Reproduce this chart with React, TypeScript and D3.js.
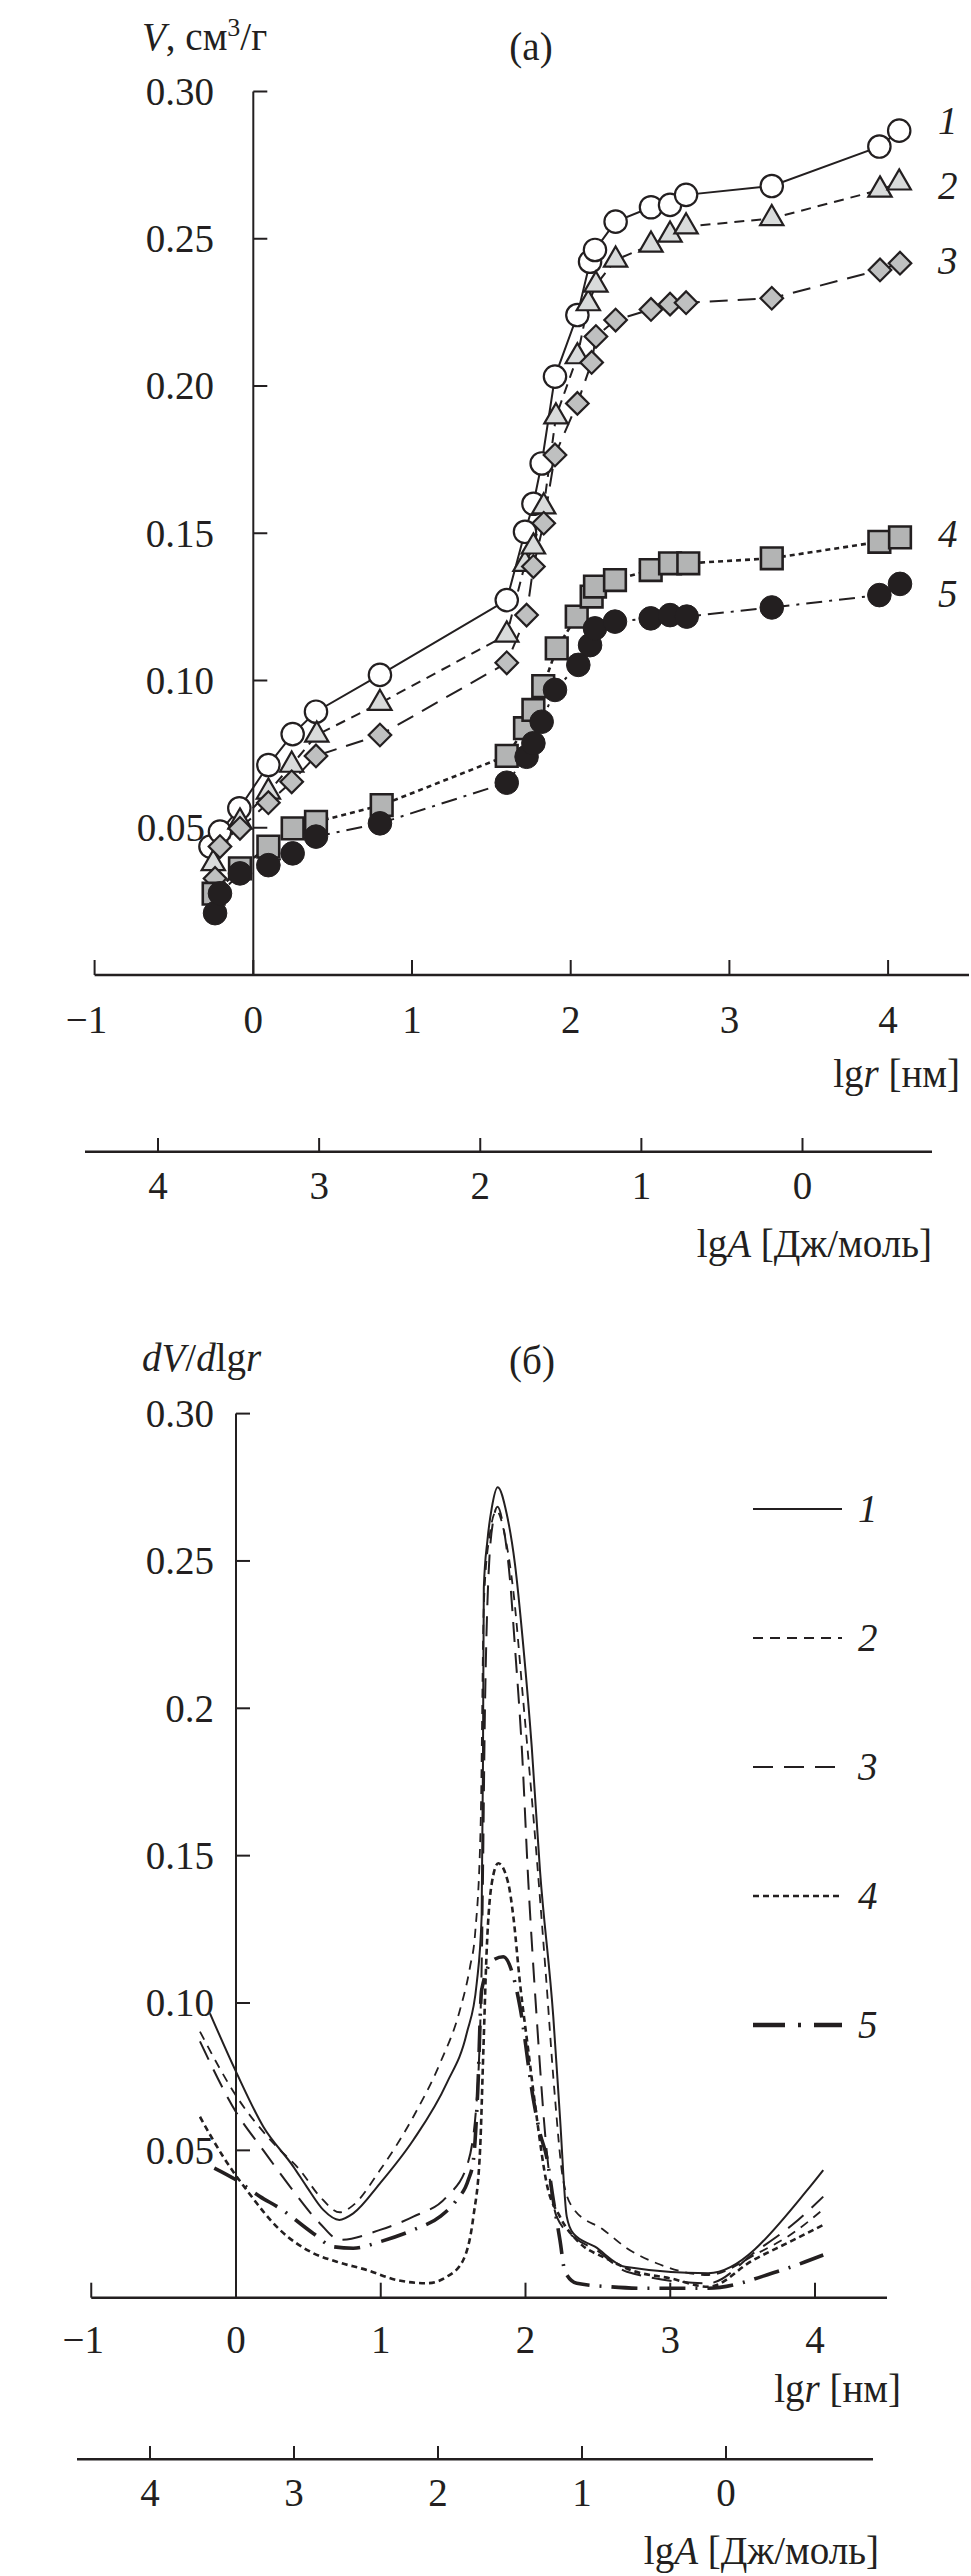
import React from 'react';
import * as d3 from 'd3';

const INK = '#231f20';
const FONT = '"Liberation Serif", "Times New Roman", serif';

// ---------- Panel (a) data: lg r [nm] vs V, cm3/g ----------
const seriesA1: [number, number][] = [
  [-0.27, 0.0436], [-0.21, 0.0487], [-0.088, 0.0566], [0.095, 0.0713], [0.248, 0.0818],
  [0.395, 0.0894], [0.798, 0.1019], [1.597, 0.1273], [1.712, 0.1505], [1.765, 0.16],
  [1.817, 0.1737], [1.901, 0.2032], [2.042, 0.2241], [2.122, 0.2422], [2.153, 0.2462],
  [2.283, 0.2558], [2.506, 0.2607], [2.626, 0.2615], [2.727, 0.2649], [3.267, 0.2679],
  [3.945, 0.2813], [4.07, 0.2867],
];
const seriesA2: [number, number][] = [
  [-0.252, 0.0379], [-0.084, 0.052], [0.095, 0.0622], [0.242, 0.0713], [0.4, 0.0815],
  [0.798, 0.0923], [1.597, 0.1155], [1.712, 0.1395], [1.765, 0.1454], [1.83, 0.159],
  [1.907, 0.1896], [2.042, 0.21], [2.111, 0.228], [2.159, 0.2343], [2.283, 0.2428],
  [2.506, 0.2479], [2.626, 0.2513], [2.727, 0.2541], [3.267, 0.2569], [3.949, 0.2666],
  [4.07, 0.269],
];
const seriesA3: [number, number][] = [
  [-0.241, 0.0328], [-0.21, 0.0436], [-0.084, 0.0498], [0.095, 0.0585], [0.242, 0.0656],
  [0.395, 0.0744], [0.798, 0.0815], [1.597, 0.106], [1.722, 0.1222], [1.765, 0.1387],
  [1.83, 0.1534], [1.901, 0.1766], [2.042, 0.1941], [2.132, 0.208], [2.159, 0.2168],
  [2.283, 0.2224], [2.506, 0.226], [2.626, 0.2278], [2.727, 0.2283], [3.267, 0.2298],
  [3.949, 0.2394], [4.075, 0.2417],
];
const seriesA4: [number, number][] = [
  [-0.25, 0.0276], [-0.084, 0.0362], [0.095, 0.0436], [0.248, 0.0498], [0.395, 0.052],
  [0.809, 0.0577], [1.597, 0.0744], [1.712, 0.0838], [1.765, 0.09], [1.827, 0.0981],
  [1.912, 0.1109], [2.038, 0.1217], [2.132, 0.1285], [2.153, 0.1319], [2.279, 0.1341],
  [2.504, 0.1375], [2.626, 0.1398], [2.741, 0.1398], [3.267, 0.1415], [3.945, 0.1471],
  [4.075, 0.1486],
];
const seriesA5: [number, number][] = [
  [-0.241, 0.021], [-0.21, 0.0277], [-0.084, 0.0345], [0.095, 0.0373], [0.248, 0.0413],
  [0.395, 0.047], [0.798, 0.0515], [1.597, 0.0653], [1.722, 0.0741], [1.765, 0.0787],
  [1.817, 0.086], [1.901, 0.0968], [2.048, 0.1053], [2.122, 0.112], [2.153, 0.1177],
  [2.279, 0.12], [2.504, 0.1211], [2.626, 0.1222], [2.731, 0.1217], [3.267, 0.1248],
  [3.945, 0.129], [4.075, 0.1328],
];

// ---------- Panel (b) data: lg r vs dV/dlg r ----------
const curveB1: [number, number][] = [
  [-0.18, 0.0965], [0, 0.0767], [0.189, 0.058], [0.396, 0.0445], [0.488, 0.0377],
  [0.603, 0.0298], [0.714, 0.0264], [0.81, 0.0286], [0.995, 0.0388], [1.225, 0.0535],
  [1.456, 0.0728], [1.594, 0.0897], [1.663, 0.1067], [1.697, 0.1293], [1.706, 0.18],
  [1.712, 0.241], [1.737, 0.257], [1.767, 0.268], [1.808, 0.275], [1.87, 0.266],
  [1.927, 0.249], [1.985, 0.221], [2.043, 0.187], [2.1, 0.145], [2.192, 0.0953],
  [2.238, 0.0614], [2.285, 0.0275], [2.33, 0.0218], [2.48, 0.0173], [2.687, 0.0105],
  [3.263, 0.0083], [3.966, 0.0377], [4.057, 0.0433],
];
const curveB2: [number, number][] = [
  [-0.249, 0.0903], [0.005, 0.0682], [0.258, 0.0524], [0.442, 0.0433], [0.58, 0.0343],
  [0.718, 0.029], [0.81, 0.0314], [0.995, 0.0433], [1.225, 0.0614], [1.409, 0.0795],
  [1.547, 0.0976], [1.617, 0.1123], [1.652, 0.1236], [1.69, 0.16], [1.712, 0.235],
  [1.75, 0.258], [1.8, 0.267], [1.86, 0.258], [1.92, 0.238], [1.98, 0.205],
  [2.06, 0.16], [2.14, 0.11], [2.2, 0.07], [2.26, 0.04], [2.33, 0.0303],
  [2.54, 0.023], [2.7, 0.0168], [2.906, 0.0117], [3.263, 0.0077], [3.6, 0.015],
  [3.85, 0.022], [4.057, 0.03],
];
const curveB3: [number, number][] = [
  [-0.249, 0.087], [0.005, 0.0626], [0.189, 0.05], [0.373, 0.0377], [0.58, 0.0252],
  [0.718, 0.0196], [0.995, 0.023], [1.225, 0.0275], [1.456, 0.0343], [1.594, 0.0445],
  [1.66, 0.065], [1.7, 0.12], [1.72, 0.2], [1.743, 0.2435], [1.778, 0.264],
  [1.807, 0.2684], [1.847, 0.2616], [1.893, 0.2435], [1.927, 0.2209], [1.974, 0.187],
  [2.02, 0.1406], [2.077, 0.0953], [2.146, 0.05], [2.215, 0.0275], [2.35, 0.02],
  [2.49, 0.0162], [2.7, 0.0088], [3.263, 0.0049], [3.6, 0.016], [3.85, 0.025],
  [4.057, 0.0343],
];
const curveB4: [number, number][] = [
  [-0.249, 0.0614], [-0.088, 0.0478], [0.074, 0.0365], [0.304, 0.023], [0.534, 0.0151],
  [0.696, 0.0122], [0.903, 0.0094], [1.11, 0.006], [1.317, 0.0049], [1.456, 0.0071],
  [1.57, 0.0128], [1.64, 0.0275], [1.686, 0.05], [1.709, 0.084], [1.732, 0.118],
  [1.767, 0.1406], [1.812, 0.1474], [1.881, 0.1406], [1.916, 0.1293], [1.962, 0.1067],
  [2.019, 0.084], [2.077, 0.0614], [2.146, 0.0388], [2.238, 0.0275], [2.376, 0.0185],
  [2.55, 0.0135], [2.75, 0.009], [2.998, 0.0066], [3.263, 0.0037], [3.574, 0.0128],
  [3.827, 0.019], [4.057, 0.0247],
];
const curveB5: [number, number][] = [
  [-0.15, 0.044], [0, 0.04], [0.166, 0.0343], [0.304, 0.0303], [0.534, 0.0218],
  [0.672, 0.0173], [0.81, 0.0168], [0.995, 0.019], [1.225, 0.023], [1.409, 0.0275],
  [1.525, 0.0332], [1.605, 0.04], [1.64, 0.0467], [1.67, 0.07], [1.697, 0.1044],
  [1.778, 0.1146], [1.847, 0.1157], [1.916, 0.109], [1.962, 0.0987], [2.055, 0.0671],
  [2.1, 0.0558], [2.146, 0.0478], [2.192, 0.0332], [2.238, 0.0196], [2.273, 0.0088],
  [2.354, 0.0049], [2.584, 0.0037], [2.814, 0.0032], [3.263, 0.0032], [3.735, 0.0088],
  [4.057, 0.0145],
];

// ---------- ticks / labels ----------
const xTicks = [-1, 0, 1, 2, 3, 4];
const lgATicks = [4, 3, 2, 1, 0];
const yTicksA = [0.05, 0.1, 0.15, 0.2, 0.25, 0.3];
const yLabelsA = ['0.05', '0.10', '0.15', '0.20', '0.25', '0.30'];
const yTicksB = [0.05, 0.1, 0.15, 0.2, 0.25, 0.3];
const yLabelsB = ['0.05', '0.10', '0.15', '0.2', '0.25', '0.30'];
const seriesNames = ['1', '2', '3', '4', '5'];

// ---------- scales ----------
const xA = d3.scaleLinear().domain([0, 1]).range([253.3, 412]);
const yA = d3.scaleLinear().domain([0, 0.3]).range([975, 91.5]);
const lgAxA = d3.scaleLinear().domain([4, 0]).range([158, 802.5]);

const xB = d3.scaleLinear().domain([0, 1]).range([236, 380.75]);
const yB = d3.scaleLinear().domain([0, 0.3]).range([2297.7, 1413.6]);
const lgAxB = d3.scaleLinear().domain([4, 0]).range([150, 726]);

const dashA = ['none', '10,7', '18,10', '5,4', '16,7,3,7'];
const widthA = [2, 2, 2, 2.6, 2];
const dashB = ['none', '9,7', '20,11', '6,4', '26,10,2,10'];
const widthB = [2, 1.8, 2, 2.6, 3.6];
const dashLegB = ['none', '10,7', '20,11', '6,4', '32,13,3,13'];

const FS = 39;

function AxisLabelLgr({ x, y }: { x: number; y: number }) {
  return (
    <text x={x} y={y} fontSize={FS} textAnchor="end" fontFamily={FONT} fill={INK}>
      lg<tspan fontStyle="italic">r</tspan> [нм]
    </text>
  );
}
function AxisLabelLgA({ x, y }: { x: number; y: number }) {
  return (
    <text x={x} y={y} fontSize={FS} textAnchor="end" fontFamily={FONT} fill={INK}>
      lg<tspan fontStyle="italic">A</tspan> [Дж/моль]
    </text>
  );
}

function Marker({ kind, x, y }: { kind: number; x: number; y: number }) {
  if (kind === 0) return <circle cx={x} cy={y} r={11.2} fill="#ffffff" stroke={INK} strokeWidth={2.2} />;
  if (kind === 1) {
    const p = d3.symbol().type(d3.symbolTriangle).size(235)() as string;
    return <path d={p} transform={`translate(${x},${y})`} fill="#d9dbdb" stroke={INK} strokeWidth={2.2} />;
  }
  if (kind === 2) {
    const p = d3.symbol().type(d3.symbolSquare).size(255)() as string;
    return <path d={p} transform={`translate(${x},${y}) rotate(45)`} fill="#bfc0c0" stroke={INK} strokeWidth={2.2} />;
  }
  if (kind === 3) {
    const p = d3.symbol().type(d3.symbolSquare).size(470)() as string;
    return <path d={p} transform={`translate(${x},${y})`} fill="#b3b4b4" stroke={INK} strokeWidth={2.6} />;
  }
  return <circle cx={x} cy={y} r={11.8} fill={INK} stroke={INK} strokeWidth={1} />;
}

export default function App() {
  const seriesA = [seriesA1, seriesA2, seriesA3, seriesA4, seriesA5];
  const curvesB = [curveB1, curveB2, curveB3, curveB4, curveB5];
  const lineA = d3.line<[number, number]>().x(d => xA(d[0])).y(d => yA(d[1]));
  const lineB = d3.line<[number, number]>().x(d => xB(d[0])).y(d => yB(d[1])).curve(d3.curveMonotoneX);

  const labelYA = [121, 186, 261, 534, 594];
  const legendYB = [1509, 1638, 1767, 1896, 2025];
  const tickText = (t: number) => (t < 0 ? '\u2212' + Math.abs(t) : String(t));

  return (
    <svg width={971} height={2576} style={{ position: 'absolute', left: 0, top: 0, background: '#fff' }}
      fontFamily={FONT}>
      <rect x={0} y={0} width={971} height={2576} fill="#fff" />
      {/* ================= Panel (a) ================= */}
      <text x={142} y={50} fontSize={FS} fill={INK}>
        <tspan fontStyle="italic">V</tspan>, см<tspan dy={-14} fontSize={26}>3</tspan><tspan dy={14}>/г</tspan>
      </text>
      <text x={531} y={60} fontSize={FS} textAnchor="middle" fill={INK}>(а)</text>

      {/* y axis */}
      <line x1={xA(0)} x2={xA(0)} y1={yA(0.3)} y2={yA(0)} stroke={INK} strokeWidth={2} />
      {yTicksA.map((t, i) => (
        <g key={'ya' + i}>
          <line x1={xA(0)} x2={xA(0) + 14} y1={yA(t)} y2={yA(t)} stroke={INK} strokeWidth={2} />
          <text x={i === 0 ? 205 : 214} y={yA(t)} dy="0.34em" fontSize={FS} textAnchor="end" fill={INK}>{yLabelsA[i]}</text>
        </g>
      ))}
      {/* x axis */}
      <line x1={xA(-1)} x2={969} y1={yA(0)} y2={yA(0)} stroke={INK} strokeWidth={2.5} />
      {xTicks.map(t => (
        <g key={'xa' + t}>
          <line x1={xA(t)} x2={xA(t)} y1={yA(0)} y2={yA(0) - 15} stroke={INK} strokeWidth={2} />
          <text x={xA(t) - (t < 0 ? 8 : 0)} y={1033} fontSize={FS} textAnchor="middle" fill={INK}>{tickText(t)}</text>
        </g>
      ))}
      <AxisLabelLgr x={960} y={1087} />
      {/* lgA axis */}
      <line x1={85} x2={932} y1={1151.7} y2={1151.7} stroke={INK} strokeWidth={2.6} />
      {lgATicks.map(t => (
        <g key={'la' + t}>
          <line x1={lgAxA(t)} x2={lgAxA(t)} y1={1151.7} y2={1138} stroke={INK} strokeWidth={2} />
          <text x={lgAxA(t)} y={1199} fontSize={FS} textAnchor="middle" fill={INK}>{String(t)}</text>
        </g>
      ))}
      <AxisLabelLgA x={932} y={1257} />

      {/* series lines */}
      {seriesA.map((s, i) => (
        <path key={'la' + i} d={lineA(s) as string} fill="none" stroke={INK} strokeWidth={widthA[i]}
          strokeDasharray={dashA[i]} />
      ))}
      {/* markers */}
      {seriesA.map((s, i) => (
        <g key={'ma' + i}>
          {s.map((d, j) => <Marker key={j} kind={i} x={xA(d[0])} y={yA(d[1])} />)}
        </g>
      ))}
      {seriesNames.map((n, i) => (
        <text key={'na' + i} x={938} y={labelYA[i]} dy="0.34em" fontSize={FS} fontStyle="italic" fill={INK}>{n}</text>
      ))}

      {/* ================= Panel (b) ================= */}
      <text x={142} y={1371} fontSize={FS} fill={INK}>
        <tspan fontStyle="italic">dV</tspan>/<tspan fontStyle="italic">d</tspan>lg<tspan fontStyle="italic">r</tspan>
      </text>
      <text x={532} y={1374} fontSize={FS} textAnchor="middle" fill={INK}>(б)</text>

      <line x1={xB(0)} x2={xB(0)} y1={yB(0.3)} y2={yB(0)} stroke={INK} strokeWidth={2} />
      {yTicksB.map((t, i) => (
        <g key={'yb' + i}>
          <line x1={xB(0)} x2={xB(0) + 14} y1={yB(t)} y2={yB(t)} stroke={INK} strokeWidth={2} />
          <text x={214} y={yB(t)} dy="0.34em" fontSize={FS} textAnchor="end" fill={INK}>{yLabelsB[i]}</text>
        </g>
      ))}
      <line x1={xB(-1)} x2={887} y1={yB(0)} y2={yB(0)} stroke={INK} strokeWidth={2.5} />
      {xTicks.map(t => (
        <g key={'xb' + t}>
          <line x1={xB(t)} x2={xB(t)} y1={yB(0)} y2={yB(0) - 15} stroke={INK} strokeWidth={2} />
          <text x={xB(t) - (t < 0 ? 8 : 0)} y={2353} fontSize={FS} textAnchor="middle" fill={INK}>{tickText(t)}</text>
        </g>
      ))}
      <AxisLabelLgr x={901} y={2402} />
      <line x1={77} x2={873} y1={2459.3} y2={2459.3} stroke={INK} strokeWidth={2.6} />
      {lgATicks.map(t => (
        <g key={'lb' + t}>
          <line x1={lgAxB(t)} x2={lgAxB(t)} y1={2459.3} y2={2446} stroke={INK} strokeWidth={2} />
          <text x={lgAxB(t)} y={2506} fontSize={FS} textAnchor="middle" fill={INK}>{String(t)}</text>
        </g>
      ))}
      <AxisLabelLgA x={879} y={2564} />

      {curvesB.map((c, i) => (
        <path key={'cb' + i} d={lineB(c) as string} fill="none" stroke={INK} strokeWidth={widthB[i]}
          strokeDasharray={dashB[i]} />
      ))}
      {seriesNames.map((n, i) => (
        <g key={'lg' + i}>
          <line x1={753} x2={842} y1={legendYB[i]} y2={legendYB[i]} stroke={INK}
            strokeWidth={i === 4 ? 4.5 : widthB[i]} strokeDasharray={dashLegB[i]} />
          <text x={858} y={legendYB[i]} dy="0.34em" fontSize={FS} fontStyle="italic" fill={INK}>{n}</text>
        </g>
      ))}
    </svg>
  );
}
